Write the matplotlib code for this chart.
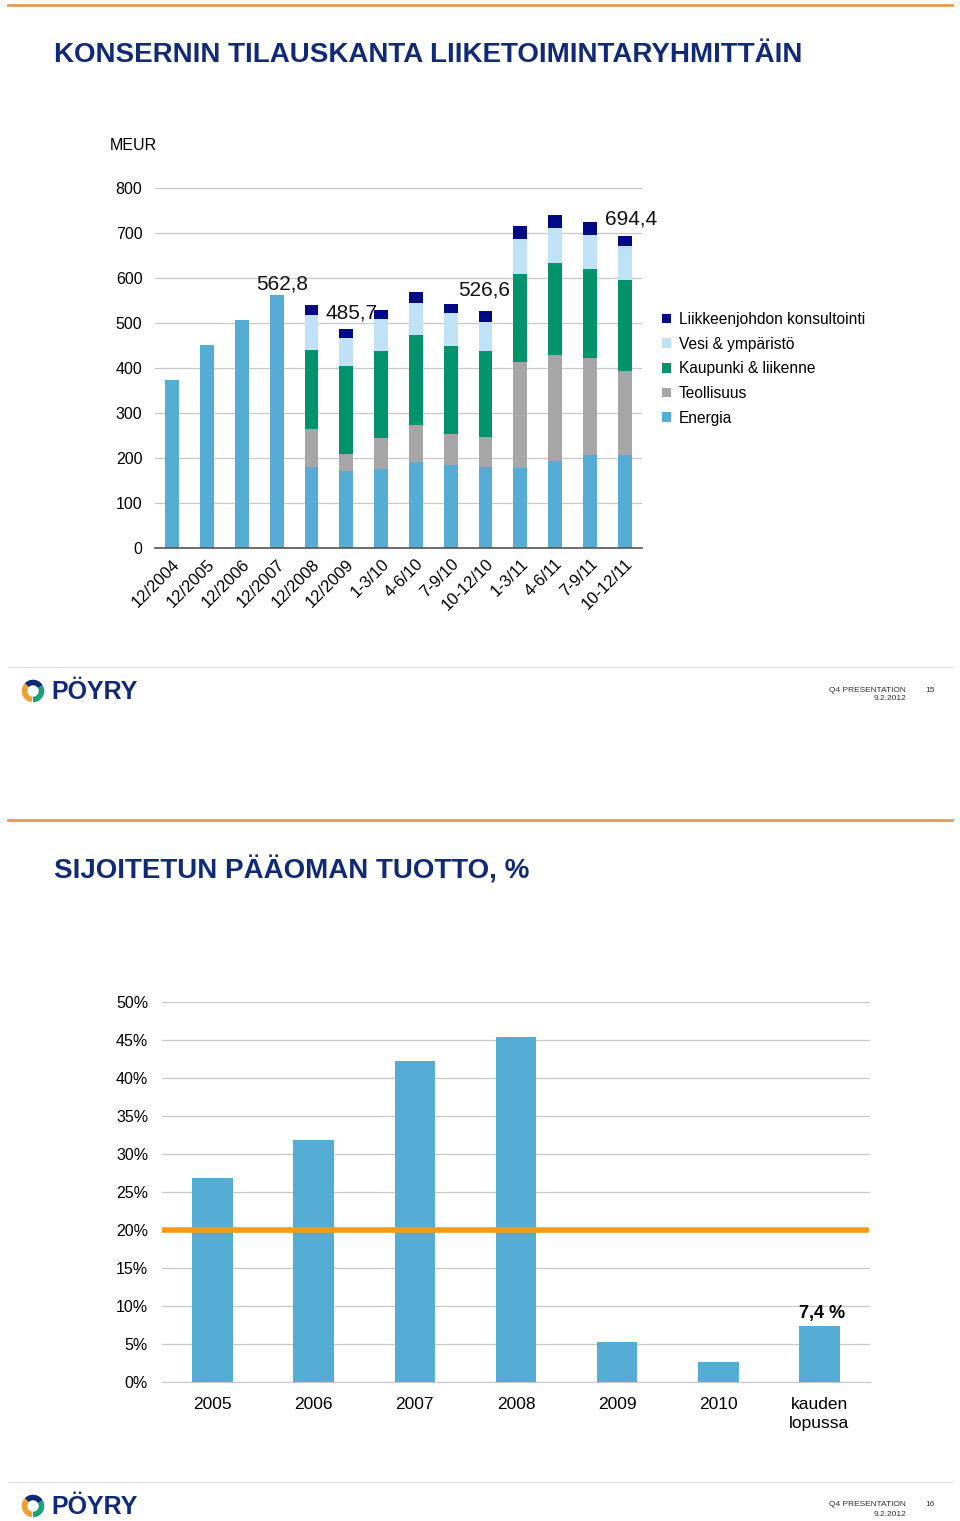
import matplotlib.pyplot as plt
from matplotlib.patches import Patch, Arc
from matplotlib.lines import Line2D

plt.rcParams['font.family'] = ['Liberation Sans', 'DejaVu Sans']

W, H = 960, 1521

# Slide 1 data: order backlog by business group (MEUR)
periods = ["12/2004", "12/2005", "12/2006", "12/2007", "12/2008", "12/2009",
           "1-3/10", "4-6/10", "7-9/10", "10-12/10", "1-3/11", "4-6/11",
           "7-9/11", "10-12/11"]
energia = [373, 451, 506, 562.8, 181, 171, 175, 191, 184, 181, 178, 194, 206, 206]
teollisuus = [0, 0, 0, 0, 83, 39, 69, 82, 70, 66, 235, 234, 216, 187]
kaupunki = [0, 0, 0, 0, 177, 194, 194, 200, 196, 190, 197, 205, 197, 202]
vesi = [0, 0, 0, 0, 76, 63, 70, 71, 72, 65, 77, 78, 77, 77]
konsultointi = [0, 0, 0, 0, 22, 18.7, 22, 24, 20, 24.6, 28, 30, 28, 22.4]
series_names = ["Energia", "Teollisuus", "Kaupunki & liikenne",
                "Vesi & ympäristö", "Liikkeenjohdon konsultointi"]
value_labels = ["562,8", "485,7", "526,6", "694,4"]
value_label_idx = [3, 5, 9, 13]
y1_ticks = [0, 100, 200, 300, 400, 500, 600, 700, 800]

# Slide 2 data: return on capital employed
roce_cats = ["2005", "2006", "2007", "2008", "2009", "2010", "kauden\nlopussa"]
roce = [26.8, 31.9, 42.3, 45.4, 5.3, 2.6, 7.4]
roce_target = 20
y2_ticks = [0, 5, 10, 15, 20, 25, 30, 35, 40, 45, 50]

colors = ["#55acd5", "#a6a6a6", "#00936c", "#bfe2f6", "#000a85"]
navy = "#102a78"


def px_rect(left, top, right, bottom):
    return [left / W, 1 - bottom / H, (right - left) / W, (bottom - top) / H]


def fy(y):
    return 1 - y / H


fig = plt.figure(figsize=(W / 100, H / 100), dpi=100)


def slide_frame(y0, title, page):
    fig.add_artist(Line2D([8 / W, 952 / W], [fy(y0 + 5)] * 2, color="#e49a4e", lw=2))
    fig.text(54 / W, fy(y0 + 55), title, fontsize=20, fontweight="bold",
             color=navy, va="center", ha="left")
    fig.add_artist(Line2D([8 / W, 952 / W], [fy(y0 + 667)] * 2, color="#dddddd", lw=0.8))
    # logo
    lx, ly = 33, y0 + 691
    for th1, th2, c in [(20, 150, navy), (150, 260, "#f0a030"), (270, 20, "#1aa17a")]:
        fig.add_artist(Arc((lx / W, fy(ly)), 17 / W, 17 / H, theta1=th1, theta2=th2,
                           color=c, lw=4, transform=fig.transFigure))
    fig.text(51 / W, fy(ly + 1), "PÖYRY", fontsize=18, fontweight="bold", color=navy,
             va="center", ha="left")
    fig.text(906 / W, fy(y0 + 690), "Q4 PRESENTATION", fontsize=6, color="#333333",
             va="center", ha="right")
    fig.text(906 / W, fy(y0 + 699), "9.2.2012", fontsize=6, color="#333333",
             va="center", ha="right")
    fig.text(930 / W, fy(y0 + 690), str(page), fontsize=6, color="#333333",
             va="center", ha="center")


slide_frame(0, "KONSERNIN TILAUSKANTA LIIKETOIMINTARYHMITTÄIN", 15)
slide_frame(815, "SIJOITETUN PÄÄOMAN TUOTTO, %", 16)

# ---- chart 1: stacked bars ----
ax1 = fig.add_axes(px_rect(155, 188, 642, 548))
x = list(range(len(periods)))
bottom = [0] * len(periods)
handles = []
for vals, name, c in zip([energia, teollisuus, kaupunki, vesi, konsultointi],
                         series_names, colors):
    ax1.bar(x, vals, width=0.4, bottom=bottom, color=c, zorder=3)
    bottom = [b + v for b, v in zip(bottom, vals)]
    handles.append(Patch(facecolor=c, label=name))

ax1.set_xlim(-0.5, len(periods) - 0.5)
ax1.set_ylim(0, 800)
ax1.set_yticks(y1_ticks)
ax1.set_xticks(x)
ax1.set_xticklabels(periods, rotation=45, ha="right", rotation_mode="anchor", fontsize=12)
ax1.tick_params(axis="y", length=0, pad=9, labelsize=11.5)
ax1.tick_params(axis="x", length=0, pad=6)
ax1.grid(axis="y", color="#c8c8c8", lw=0.9, zorder=0)
for s in ["top", "right", "left"]:
    ax1.spines[s].set_visible(False)
ax1.spines["bottom"].set_color("#555555")
ax1.spines["bottom"].set_linewidth(1.2)
ax1.spines["bottom"].set_zorder(4)

label_offsets = [(4, 1), (4, 5), (-1, 8), (5, 5)]
for lab, i, off in zip(value_labels, value_label_idx, label_offsets):
    ax1.annotate(lab, (i, bottom[i]), xytext=off, textcoords="offset points",
                 ha="center", va="bottom", fontsize=15, color="#111111", zorder=5)

fig.text(110 / W, fy(146), "MEUR", fontsize=11.5, va="center", ha="left")

fig.legend(handles=handles[::-1], loc="upper left",
           bbox_to_anchor=(662 / W, fy(312)), frameon=False, fontsize=11.2,
           handlelength=0.6, handleheight=0.6, handletextpad=0.5,
           labelspacing=0.62, borderpad=0, borderaxespad=0)

# ---- chart 2: ROCE ----
ax2 = fig.add_axes(px_rect(162, 1002, 870, 1382))
x2 = list(range(len(roce_cats)))
ax2.bar(x2, roce, width=0.4, color=colors[0], zorder=3)
ax2.axhline(roce_target, xmin=0, xmax=0.995, color="#f59b12", lw=4, zorder=4)
ax2.set_xlim(-0.5, len(roce_cats) - 0.5)
ax2.set_ylim(0, 50)
ax2.set_yticks(y2_ticks)
ax2.set_yticklabels([f"{t}%" for t in y2_ticks])
ax2.set_xticks(x2)
ax2.set_xticklabels(roce_cats, fontsize=12.5, linespacing=1.3)
ax2.tick_params(axis="y", length=0, pad=10, labelsize=11.5)
ax2.tick_params(axis="x", length=0, pad=11)
ax2.grid(axis="y", color="#c8c8c8", lw=0.9, zorder=0)
for s in ["top", "right", "left"]:
    ax2.spines[s].set_visible(False)
ax2.spines["bottom"].set_color("#c8c8c8")
ax2.annotate("7,4 %", (x2[-1], roce[-1]), xytext=(2, 3), textcoords="offset points",
             ha="center", va="bottom", fontsize=13, fontweight="bold", zorder=5)

fig.savefig("out.png", dpi=100)
